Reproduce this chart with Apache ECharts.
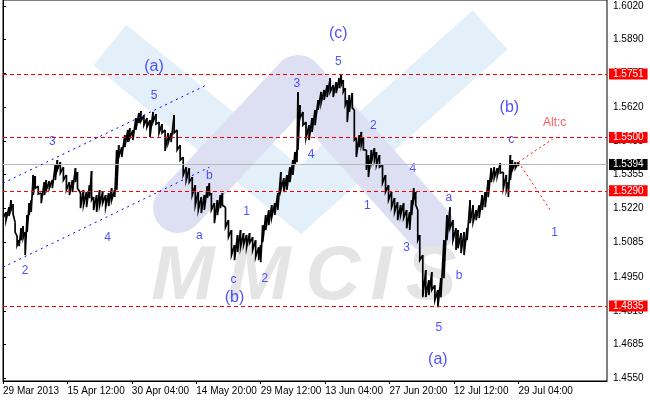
<!DOCTYPE html>
<html><head><meta charset="utf-8">
<script src="https://cdn.jsdelivr.net/npm/echarts@6/dist/echarts.min.js"></script>
<style>html,body{margin:0;padding:0;background:#fff}#c{width:650px;height:400px}</style>
</head><body><div id="c"></div>
<script>
// H4 bar index (time axis) of each sampled point
const barIndex = [
0,3,6,8,10,12,14,16,18,20,
22,24,26,28,30,32,35,38,41,43,
46,49,52,54,57,60,63,66,69,72,
74,77,80,83,86,88,90,93,96,99,
102,105,108,111,113,115,118,121,124,126,
129,132,135,137,140,143,146,149,152,155,
158,161,164,167,170,173,176,179,182,185,
188,191,194,197,200,203,205,207,210,213,
216,218,221,224,227,230,233,236,239,242,
245,248,251,254,256,258,261,264,267,270,
273,276,279,282,285,288,290,292,293,295,
298,301,304,307,310,313,316,319,322,325,
328,331,334,336,338,340,342,344,347,349,
351,354,356,358,361,363,366,369,371,374,
377,380,383,386,389,392,395,398,401,404,
406,408,410,412,414,417,420,423,426,429,
432,435,438,441,444,447,450,452,455,458,
461,464,467,470,473,476,479,482,485,488,
491,494,497,500,502,504,506,509,512];
const highs = [
1.5214,1.5206,1.5225,1.5253,1.5237,1.5166,1.5111,1.5095,1.5142,1.5150,
1.5127,1.5194,1.5241,1.5253,1.5352,1.5348,1.5308,1.5281,1.5324,1.5332,
1.5328,1.5332,1.5391,1.5411,1.5403,1.5383,1.5352,1.5324,1.5332,1.5379,
1.5364,1.5281,1.5293,1.5285,1.5312,1.5368,1.5265,1.5273,1.5293,1.5285,
1.5273,1.5281,1.5300,1.5293,1.5451,1.5470,1.5462,1.5510,1.5530,1.5537,
1.5530,1.5577,1.5597,1.5605,1.5589,1.5577,1.5569,1.5601,1.5593,1.5561,
1.5553,1.5530,1.5518,1.5518,1.5589,1.5530,1.5470,1.5423,1.5383,1.5379,
1.5344,1.5312,1.5285,1.5265,1.5273,1.5308,1.5320,1.5281,1.5241,1.5253,
1.5273,1.5281,1.5225,1.5174,1.5135,1.5075,1.5115,1.5135,1.5123,1.5115,
1.5123,1.5107,1.5095,1.5067,1.5075,1.5154,1.5194,1.5214,1.5233,1.5241,
1.5281,1.5364,1.5340,1.5352,1.5383,1.5411,1.5443,1.5451,1.5680,1.5628,
1.5601,1.5561,1.5549,1.5577,1.5609,1.5648,1.5680,1.5688,1.5707,1.5735,
1.5707,1.5719,1.5735,1.5751,1.5727,1.5695,1.5648,1.5668,1.5676,1.5609,
1.5498,1.5510,1.5522,1.5502,1.5451,1.5431,1.5451,1.5458,1.5443,1.5431,
1.5391,1.5352,1.5312,1.5285,1.5261,1.5245,1.5233,1.5241,1.5214,1.5206,
1.5253,1.5300,1.5285,1.5214,1.5115,1.5036,1.4977,1.4937,1.4969,1.4917,
1.4898,1.4945,1.5095,1.5194,1.5225,1.5174,1.5142,1.5135,1.5123,1.5127,
1.5142,1.5253,1.5233,1.5214,1.5233,1.5273,1.5285,1.5332,1.5379,1.5383,
1.5379,1.5399,1.5364,1.5352,1.5324,1.5431,1.5411,1.5403,1.5403];
const lows = [
1.5182,1.5174,1.5190,1.5214,1.5198,1.5127,1.5075,1.5071,1.5095,1.5103,
1.5036,1.5127,1.5194,1.5206,1.5273,1.5300,1.5277,1.5241,1.5273,1.5293,
1.5300,1.5300,1.5332,1.5372,1.5360,1.5332,1.5293,1.5273,1.5285,1.5324,
1.5300,1.5221,1.5233,1.5225,1.5261,1.5253,1.5214,1.5206,1.5233,1.5241,
1.5225,1.5229,1.5253,1.5265,1.5293,1.5423,1.5423,1.5462,1.5482,1.5498,
1.5490,1.5530,1.5557,1.5565,1.5549,1.5541,1.5502,1.5561,1.5553,1.5518,
1.5518,1.5447,1.5478,1.5482,1.5518,1.5451,1.5411,1.5352,1.5332,1.5324,
1.5273,1.5233,1.5214,1.5202,1.5214,1.5261,1.5273,1.5214,1.5162,1.5194,
1.5221,1.5233,1.5146,1.5107,1.5036,1.5016,1.5048,1.5067,1.5075,1.5067,
1.5083,1.5056,1.5028,1.5016,1.5008,1.5087,1.5135,1.5154,1.5186,1.5194,
1.5214,1.5293,1.5285,1.5293,1.5324,1.5352,1.5395,1.5403,1.5451,1.5577,
1.5549,1.5498,1.5490,1.5522,1.5549,1.5609,1.5636,1.5648,1.5660,1.5680,
1.5660,1.5676,1.5695,1.5707,1.5680,1.5628,1.5561,1.5601,1.5616,1.5490,
1.5423,1.5462,1.5470,1.5451,1.5372,1.5344,1.5403,1.5411,1.5391,1.5383,
1.5320,1.5285,1.5253,1.5225,1.5206,1.5174,1.5194,1.5182,1.5142,1.5135,
1.5194,1.5253,1.5233,1.5095,1.5016,1.4870,1.4870,1.4878,1.4898,1.4858,
1.4830,1.4870,1.4945,1.5095,1.5142,1.5095,1.5056,1.5063,1.5044,1.5036,
1.5095,1.5162,1.5166,1.5174,1.5182,1.5214,1.5225,1.5265,1.5324,1.5340,
1.5348,1.5360,1.5300,1.5293,1.5265,1.5332,1.5372,1.5379,1.5387];

const priceTicks = [1.4550,1.4685,1.4815,1.4950,1.5085,1.5220,1.5355,1.5485,1.5620,1.5755,1.5890,1.6020];
const timeTicks = [0,64,128,192,256,320,384,448,512];
const timeLabels = ['29 Mar 2013','15 Apr 12:00','30 Apr 04:00','14 May 20:00','29 May 12:00','13 Jun 04:00','27 Jun 20:00','12 Jul 12:00','29 Jul 04:00'];
const levels = [1.5751,1.5500,1.5290,1.4835];
const lastPrice = 1.5394;
const channelUpper = [[0,1.5320],[202,1.5707]];
const channelLower = [[0,1.4988],[205,1.5383]];
const projUp = [[512,1.5403],[546,1.5494]];
const projDown = [[512,1.5403],[545,1.5206]];
const waveMinor = [
[150,1.5664,'5'],[49,1.5482,'3'],[104,1.5103,'4'],[22,1.4973,'2'],
[205,1.5348,'b'],[195,1.5111,'a'],[242,1.5206,'1'],[229,1.4937,'c'],[260,1.4941,'2'],
[292,1.5711,'3'],[306,1.5431,'4'],[333,1.5798,'5'],[368,1.5545,'2'],[362,1.5233,'1'],
[407,1.5379,'4'],[401,1.5067,'3'],[443,1.5261,'a'],[453,1.4953,'b'],[433,1.4751,'5'],
[505,1.5490,'c'],[548,1.5123,'1']];
const waveMajor = [[150,1.5782,'(a)'],[230,1.4870,'(b)'],[333,1.5909,'(c)'],[432,1.4625,'(a)'],[503,1.5620,'(b)']];
const altLabel = [[548,1.5557,'Alt:c']];

const FONT = 'Liberation Sans';
const chart = echarts.init(document.getElementById('c'), null, {renderer:'canvas'});
const toItems = arr => arr.map(a => ({value:[a[0], a[1]], name:a[2]}));
const HIDDEN = {color:'rgba(0,0,0,0)', borderWidth:0};
const boxLabel = bg => ({show:true,position:'end',formatter:p=>Number(p.value).toFixed(4),backgroundColor:bg,color:'#fff',
  padding:[1,4,0,4],distance:2,fontSize:10,fontFamily:FONT});
const RED_DASH = {color:'#ff0000',type:[4,3],width:1,opacity:1};

const letters = [['M',183],['M',259],['C',333],['I',381],['S',431]];

const option = {
  backgroundColor:'#ffffff',
  animation:false,
  color:['#ff0000'],
  grid:{left:0,right:43,top:0,bottom:19,show:true,borderColor:'#000',borderWidth:1},
  graphic:[
    {type:'polyline', z:-10, shape:{points:[[110,45],[300,200],[490,30]]},
     style:{stroke:'#e3f0f9', lineWidth:52, fill:'none', lineJoin:'miter'}},
    {type:'polyline', z:-9, shape:{points:[[178,208],[298,80],[430,228]]},
     style:{stroke:'#dde0f3', lineWidth:50, fill:'none', lineCap:'round', lineJoin:'round'}}
  ].concat(letters.map(l => ({type:'text', z:-8, x:l[1], y:278,
     style:{text:l[0], fill:'#e5e5e5', font:'italic bold 76px "Liberation Sans"', textAlign:'center', textVerticalAlign:'middle'}}))),
  xAxis:{type:'value',min:0,max:600,
    axisLine:{show:true,lineStyle:{color:'#000'}},
    axisTick:{show:true,customValues:timeTicks,length:3,lineStyle:{color:'#000'}},
    axisLabel:{customValues:timeTicks,formatter:v=>timeLabels[timeTicks.indexOf(Math.round(v))]||'',
      align:'left',margin:5,color:'#000',fontSize:10,fontFamily:FONT},
    splitLine:{show:false}},
  yAxis:{type:'value',position:'right',min:1.4539,max:1.6043,
    axisLine:{show:true,lineStyle:{color:'#000'}},
    axisTick:{show:true,customValues:priceTicks,length:3,lineStyle:{color:'#000'}},
    axisLabel:{customValues:priceTicks,formatter:v=>v.toFixed(4),margin:6,color:'#000',fontSize:10,fontFamily:FONT},
    splitLine:{show:false}},
  series:[
    {name:'levels', type:'line', data:[], z:2, color:'#ff0000',
     markLine:{silent:true, symbol:['none','none'], precision:4, lineStyle:RED_DASH,
       label:boxLabel('#ff0000'),
       data:levels.map(v=>({yAxis:v, lineStyle:RED_DASH}))}},
    {name:'last', type:'line', data:[], z:1, color:'#b8b8b8',
     markLine:{silent:true, symbol:['none','none'], precision:4,
       lineStyle:{color:'#b8b8b8',type:'solid',width:1},
       label:boxLabel('#000000'),
       data:[{yAxis:lastPrice}]}},
    {name:'price', type:'custom', z:3, clip:true,
     data:barIndex.map((x,i)=>[x, lows[i], highs[i]]),
     encode:{x:0,y:[1,2]},
     renderItem:(params, api)=>{
       const i = params.dataIndex;
       const a = api.coord([barIndex[i], highs[i]]);
       const d = api.coord([barIndex[i], lows[i]]);
       const pts = [a, d];
       if (i < barIndex.length-1) pts.push(api.coord([barIndex[i+1], highs[i+1]]));
       return {type:'polyline', shape:{points:pts}, style:{fill:'none', stroke:'#000', lineWidth:1.7}};
     },
     markLine:{silent:true, symbol:['none','none'], precision:4, label:{show:false},
       lineStyle:{color:'#ff0000',type:[2,3],width:1},
       data:[[{coord:projUp[0]},{coord:projUp[1]}],[{coord:projDown[0]},{coord:projDown[1]}]]}},
    {type:'scatter', z:4, symbolSize:1, itemStyle:HIDDEN, silent:true,
     data:toItems(waveMinor),
     label:{show:true,position:'inside',formatter:p=>p.name,color:'#2424ff',fontSize:12,fontFamily:FONT}},
    {type:'scatter', z:4, symbolSize:1, itemStyle:HIDDEN, silent:true,
     data:toItems(waveMajor),
     label:{show:true,position:'inside',formatter:p=>p.name,color:'#2424ff',fontSize:16,fontFamily:FONT}},
    {type:'scatter', z:4, symbolSize:1, itemStyle:HIDDEN, silent:true,
     data:toItems(altLabel),
     label:{show:true,position:'inside',formatter:p=>p.name,color:'#ff3030',fontSize:12,fontFamily:FONT},
     markLine:{silent:true, symbol:['none','none'], precision:4, label:{show:false},
       lineStyle:{color:'#0000ff',type:[2,4],width:1},
       data:[[{coord:channelUpper[0]},{coord:channelUpper[1]}],[{coord:channelLower[0]},{coord:channelLower[1]}]]}}
  ]
};
chart.setOption(option);
</script></body></html>
